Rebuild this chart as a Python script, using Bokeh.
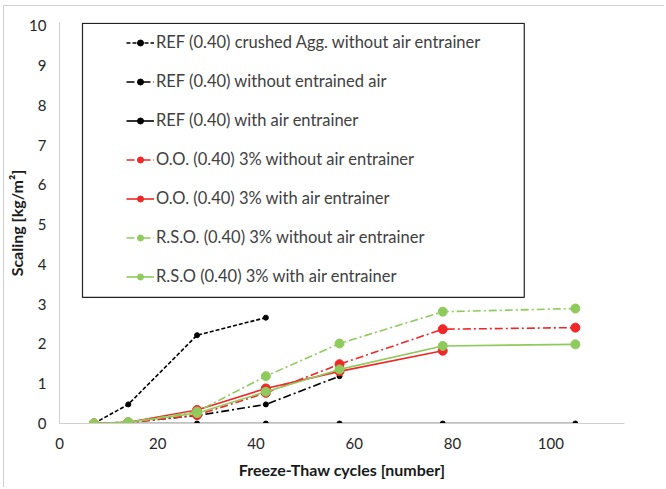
from bokeh.plotting import figure
from bokeh.models import Legend, LegendItem, BoxAnnotation, FixedTicker, Range1d
from bokeh.embed import file_html
from bokeh.resources import INLINE

# Freeze-thaw cycles at which scaling was measured
cycles = [7, 14, 28, 42, 57, 78, 105]

# Cumulative scaling [kg/m2] per mix
ref_crushed_no_ae = [0.0, 0.48, 2.22, 2.66]
ref_no_ae = [0.0, 0.03, 0.20, 0.48, 1.19]
ref_ae = [0.0, 0.0, 0.0, 0.0, 0.0, 0.0, 0.0]
oo_no_ae = [0.0, 0.02, 0.21, 0.77, 1.49, 2.37, 2.41]
oo_ae = [0.0, 0.03, 0.34, 0.88, 1.31, 1.83]
rso_no_ae = [0.0, 0.03, 0.30, 1.19, 2.01, 2.81, 2.89]
rso_ae = [0.0, 0.03, 0.26, 0.80, 1.36, 1.95, 1.99]

labels = [
    "REF (0.40) crushed Agg. without air entrainer",
    "REF (0.40) without entrained air",
    "REF (0.40) with air entrainer",
    "O.O. (0.40) 3% without air entrainer",
    "O.O. (0.40) 3% with air entrainer",
    "R.S.O. (0.40) 3% without air entrainer",
    "R.S.O (0.40) 3% with air entrainer",
]

x_ticks = [0, 20, 40, 60, 80, 100]
y_ticks = list(range(0, 11))

FONT = "Lato"
RED = "#f22626"
GREEN = "#8fcb5c"
BLACK = "#000000"

p = figure(
    width=661, height=482,
    output_backend="svg", toolbar_location=None,
    x_range=Range1d(0, 115), y_range=Range1d(0, 10.08),
    min_border_left=55, min_border_right=41,
    min_border_top=16, min_border_bottom=65,
)
p.styles = {
    "border-top": "1px solid #cfcfcf",
    "border-left": "1px solid #cfcfcf",
    "margin-left": "3px",
    "margin-top": "5px",
}
p.outline_line_color = None
p.grid.grid_line_color = None

for ax in (p.xaxis[0], p.yaxis[0]):
    ax.axis_line_color = "#d0d0d0"
    ax.axis_line_width = 1
    ax.major_tick_line_color = None
    ax.minor_tick_line_color = None
    ax.major_tick_out = 0
    ax.major_tick_in = 0
    ax.minor_tick_out = 0
    ax.minor_tick_in = 0
    ax.major_label_text_font = FONT
    ax.major_label_text_font_size = "15px"
    ax.major_label_text_color = "#262626"
    ax.axis_label_text_font = FONT
    ax.axis_label_text_font_size = "16px"
    ax.axis_label_text_font_style = "bold"
    ax.axis_label_text_color = "#1a1a1a"

p.xaxis.ticker = FixedTicker(ticks=x_ticks)
p.yaxis.ticker = FixedTicker(ticks=y_ticks)
p.xaxis.axis_label = "Freeze-Thaw cycles [number]"
p.yaxis.axis_label = "Scaling [kg/m\u00b2]"
p.xaxis.major_label_standoff = 14
p.xaxis.axis_label_standoff = 8
p.yaxis.major_label_standoff = 13
p.yaxis.axis_label_standoff = 0

series = [
    (ref_crushed_no_ae, BLACK, "4 2", 5),
    (ref_no_ae, BLACK, "8 3 2 3", 5),
    (ref_ae, BLACK, "solid", 5),
    (oo_no_ae, RED, "8 3 2 3", 9),
    (oo_ae, RED, "solid", 9),
    (rso_no_ae, GREEN, "8 3 2 3", 9),
    (rso_ae, GREEN, "solid", 9),
]

items = []
for label, (vals, color, dash, msize) in zip(labels, series):
    xs = cycles[:len(vals)]
    ln = p.line(xs, vals, line_color=color, line_width=1.6, line_dash=dash)
    mk = p.scatter(xs, vals, marker="circle", size=msize,
                   fill_color=color, line_color=color)
    items.append(LegendItem(label=label, renderers=[ln, mk]))

# frame around the legend entries
p.add_layout(BoxAnnotation(
    left=4.68, right=94.6, bottom=3.17, top=10.06,
    fill_color=None, fill_alpha=0,
    line_color="#222222", line_alpha=1.0, line_width=1.2,
    line_dash="solid",
))

legend = Legend(
    items=items, location=(67, 137),
    background_fill_alpha=0, border_line_color=None,
    padding=0, margin=0, spacing=19,
    glyph_width=28, glyph_height=15, label_height=20,
    label_standoff=2,
    label_text_font=FONT, label_text_font_size="16.5px",
    label_text_color="#404040",
)
p.add_layout(legend)

open("out.html", "w").write(file_html(p, INLINE))
